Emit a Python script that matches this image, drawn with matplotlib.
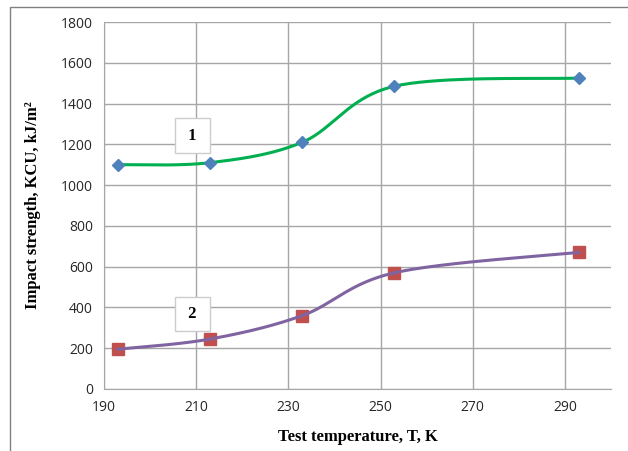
import numpy as np
import matplotlib
matplotlib.use("Agg")
import matplotlib.pyplot as plt
from matplotlib.patches import Rectangle

temps = [193, 213, 233, 253, 293]
kcu1 = [1100, 1110, 1210, 1485, 1525]
kcu2 = [195, 245, 360, 570, 670]
xticks = [190, 210, 230, 250, 270, 290]
yticks = list(range(0, 1801, 200))


def excel_smooth(x, y, n=40):
    x = np.asarray(x, float); y = np.asarray(y, float)
    xs, ys = [], []
    for i in range(len(x) - 1):
        p0 = np.array([x[max(i - 1, 0)], y[max(i - 1, 0)]])
        p1 = np.array([x[i], y[i]])
        p2 = np.array([x[i + 1], y[i + 1]])
        p3 = np.array([x[min(i + 2, len(x) - 1)], y[min(i + 2, len(x) - 1)]])
        c1 = p1 + (p2 - p0) / 6
        c2 = p2 - (p3 - p1) / 6
        t = np.linspace(0, 1, n)[:, None]
        pts = (1 - t) ** 3 * p1 + 3 * (1 - t) ** 2 * t * c1 + 3 * (1 - t) * t ** 2 * c2 + t ** 3 * p2
        xs.extend(pts[:, 0]); ys.extend(pts[:, 1])
    return np.array(xs), np.array(ys)


fig = plt.figure(figsize=(6.28, 4.51), dpi=100)
fig.patches.append(Rectangle((10 / 628, -0.01), 1.0, 1 - 7 / 451 + 0.01, transform=fig.transFigure,
                             fill=False, edgecolor='#808080', linewidth=1.0))
ax = fig.add_axes([104 / 628, 1 - 389 / 451, (611 - 104) / 628, (389 - 22) / 451])
ax.set_xlim(190, 300)
ax.set_ylim(0, 1800)
ax.set_xticks(xticks)
ax.set_yticks(yticks)
ax.grid(True, color='#a6a6a6', linewidth=1.0)
ax.set_axisbelow(True)
for s in ['top', 'right']:
    ax.spines[s].set_visible(False)
for s in ['left', 'bottom']:
    ax.spines[s].set_color('#a6a6a6')
ax.tick_params(length=0, labelsize=10, pad=8, colors='#262626')
for lab in ax.get_xticklabels() + ax.get_yticklabels():
    lab.set_fontfamily('Open Sans')

sx, sy = excel_smooth(temps, kcu1)
ax.plot(sx, sy, color='#00b050', linewidth=2.2, zorder=3)
ax.plot(temps, kcu1, linestyle='none', marker='D', markersize=6, color='#4f81bd', zorder=4)
sx, sy = excel_smooth(temps, kcu2)
ax.plot(sx, sy, color='#8064a2', linewidth=2.2, zorder=3)
ax.plot(temps, kcu2, linestyle='none', marker='s', markersize=8, color='#c0504d', zorder=2)

box = dict(boxstyle='square,pad=0.55', facecolor='white', edgecolor='#cccccc', linewidth=1)
ax.text(209.1, 1243, ' 1 ', ha='center', va='center', fontsize=12, fontweight='bold',
        family='Liberation Serif', bbox=box, zorder=5)
ax.text(209.1, 368, ' 2 ', ha='center', va='center', fontsize=12, fontweight='bold',
        family='Liberation Serif', bbox=box, zorder=5)

ax.set_xlabel('Test temperature, T, K', fontsize=12, fontweight='bold', family='Liberation Serif', labelpad=10)
ax.set_ylabel('Impact strength, KCU, kJ/m²', fontsize=12, fontweight='bold', family='Liberation Serif', labelpad=14)

fig.savefig('out.png', dpi=100)
